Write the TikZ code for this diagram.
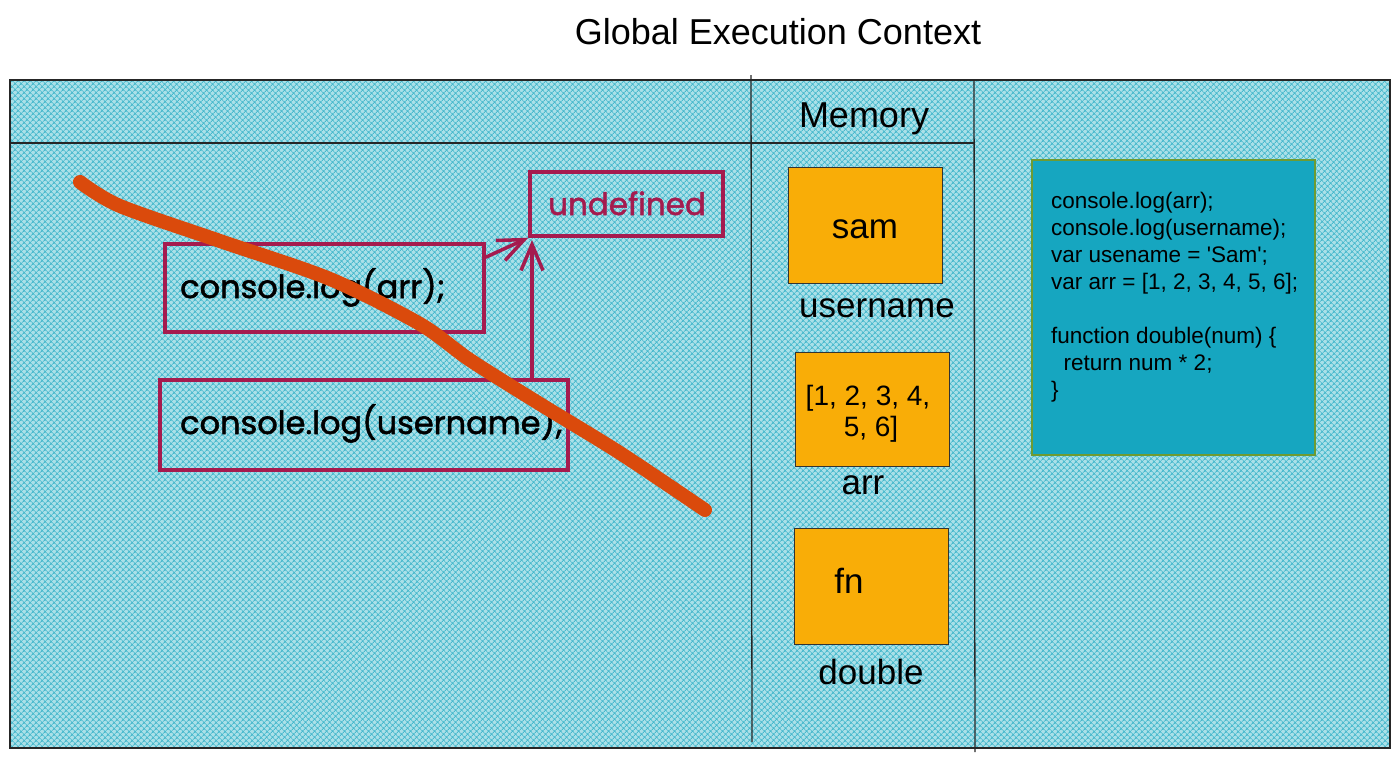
\documentclass[tikz,border=0pt]{standalone}
\usepackage{fontspec}
\setmainfont{Liberation Sans}
\newfontfamily\handfont[FakeBold=1.6]{Poppins}
\usetikzlibrary{patterns.meta,arrows.meta,calc}
\definecolor{hatchbg}{RGB}{170,224,232}
\definecolor{hatchc}{RGB}{70,184,204}
\definecolor{crim}{RGB}{165,27,78}
\definecolor{strikec}{RGB}{218,74,12}
\definecolor{memfill}{RGB}{249,173,7}
\definecolor{codefill}{RGB}{22,166,192}
\definecolor{codeborder}{RGB}{110,155,50}
\tikzset{
  frameline/.style={draw=black!85, line width=1.3pt},
  membox/.style={draw=black!80, line width=1pt, fill=memfill, minimum width=154pt, minimum height=116pt, inner sep=0pt},
  lbl/.style={font=\fontsize{35}{42}\selectfont, anchor=base, inner sep=0pt},
  handbox/.style={draw=crim, line width=3.5pt, inner sep=0pt},
  handtext/.style={font=\handfont\fontsize{32}{38}\selectfont, anchor=base west, inner sep=0pt},
  crimarrow/.style={draw=crim, line width=3.5pt, -{Straight Barb[length=26pt,width=22pt]}},
  codetext/.style={font=\fontsize{22.5}{27}\selectfont, anchor=base west, inner sep=0pt},
}
\begin{document}
\begin{tikzpicture}[x=1pt,y=-1pt]
\useasboundingbox (0,0) rectangle (1400,763);
% background hatch
\fill[hatchbg] (10,80) rectangle (1390,748);
\fill[pattern={Hatch[angle=45,distance=4pt,line width=1pt]}, pattern color=hatchc] (10,80) rectangle (1390,748);
% frame lines
\draw[frameline] (10,80) rectangle (1390,748);
\draw[frameline] (10,143) -- (975,143);
\draw[frameline] (751,75) -- (752,742);
\draw[frameline] (974,80) -- (975,752);
% title and header
\node[font=\fontsize{36}{43}\selectfont, anchor=base, inner sep=0pt] (title) at (778,44) {Global Execution Context};
\node[font=\fontsize{36}{43}\selectfont, anchor=base, inner sep=0pt] (mem) at (864,127) {Memory};
% memory boxes
\node[membox] (sam) at (865,225) {};
\node[lbl] (samt) at (865,238) {sam};
\node[lbl] (username) at (877,317) {username};
\node[membox, minimum height=114pt] (arr) at (872,409) {};
\node[font=\fontsize{28}{31}\selectfont, anchor=base, inner sep=0pt] (arrt1) at (868,405) {[1, 2, 3, 4,};
\node[font=\fontsize{28}{31}\selectfont, anchor=base, inner sep=0pt] (arrt2) at (871,436) {5, 6]};
\node[lbl] (arrl) at (863,494) {arr};
\node[membox] (fn) at (871,586) {};
\node[lbl] (fnt) at (849,593) {fn};
\node[lbl] (double) at (871,684) {double};
% code box
\node[draw=codeborder, line width=1.5pt, fill=codefill, minimum width=283pt, minimum height=295pt, inner sep=0pt] (code) at (1173.5,307.5) {};
\node[codetext] (c1) at (1051,208) {console.log(arr);};
\node[codetext] (c2) at (1051,235) {console.log(username);};
\node[codetext] (c3) at (1051,262) {var usename = \textquotesingle Sam\textquotesingle;};
\node[codetext] (c4) at (1051,289) {var arr = [1, 2, 3, 4, 5, 6];};
\node[codetext] (c5) at (1051,343) {function double(num) \{};
\node[codetext] (c6) at (1051,370) {\ \ return num * 2;};
\node[codetext] (c7) at (1051,397) {\}};
% handwritten boxes
\node[handbox, minimum width=319pt, minimum height=88pt] (box1) at (324.5,288) {};
\node[handtext] (b1t) at (180,298) {console.log(arr);};
\node[handbox, minimum width=408pt, minimum height=90pt] (box2) at (364,425) {};
\node[handtext] (b2t) at (180,434) {console.log(username);};
\node[handbox, minimum width=193pt, minimum height=64pt] (undef) at (626.5,204) {};
\node[handtext, text=crim, font=\handfont\fontsize{31}{36}\selectfont] (undeft) at (548,215) {undefined};
% arrows
\draw[crimarrow] ($(box1.north east)+(0,15)$) -- (undef.south west);
\draw[crimarrow] (box2.north -| 532,0) -- (532,240);
% strike line
\draw[strikec, line width=14pt, line cap=round, line join=round] plot[smooth, tension=0.5] coordinates {(80,182) (120,206) (220,241) (330,279) (420,324) (470,360) (540,404) (620,453) (705,510)};
\end{tikzpicture}
\end{document}
